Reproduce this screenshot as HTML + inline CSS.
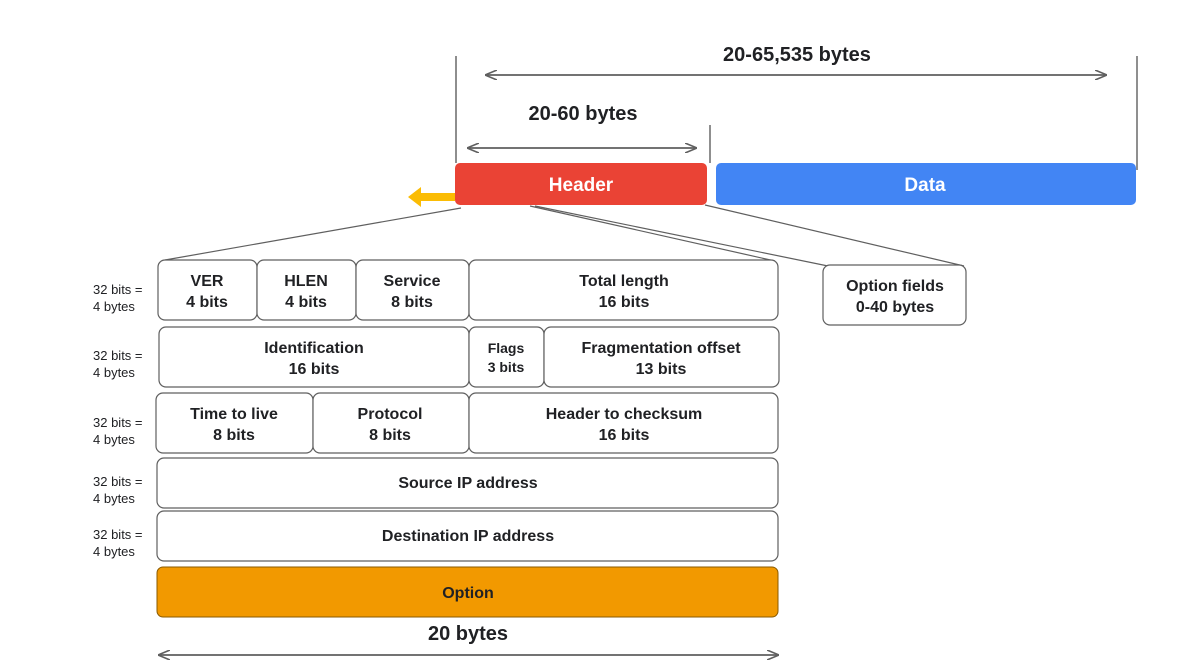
<!DOCTYPE html>
<html><head><style>
body{margin:0;background:#fff;}
svg text{font-family:"Liberation Sans",sans-serif;}
.b{fill:#fff;stroke:#5f5f5f;stroke-width:1.2;}
.t{font-size:16px;font-weight:bold;fill:#202124;text-anchor:middle;}
.s{font-size:13px;fill:#202124;}
</style></head><body>
<svg width="1182" height="666" viewBox="0 0 1182 666" xmlns="http://www.w3.org/2000/svg">
<defs>
<marker id="a" markerWidth="12" markerHeight="10" refX="11" refY="5" orient="auto-start-reverse" markerUnits="userSpaceOnUse">
<path d="M0,0 L12,5 L0,10" fill="none" stroke="#5f5f5f" stroke-width="1.6"/>
</marker>
</defs>
<g stroke="#444" stroke-width="1.2">
<line x1="456" y1="56" x2="456" y2="163"/>
<line x1="710" y1="125" x2="710" y2="163"/>
<line x1="1137" y1="56" x2="1137" y2="170"/>
</g>
<g stroke="#5f5f5f" stroke-width="1.8">
<line x1="486" y1="75" x2="1106" y2="75" marker-start="url(#a)" marker-end="url(#a)"/>
<line x1="468" y1="148" x2="696" y2="148" marker-start="url(#a)" marker-end="url(#a)"/>
<line x1="159" y1="655" x2="778" y2="655" marker-start="url(#a)" marker-end="url(#a)"/>
</g>
<text x="797" y="61" class="t" style="font-size:20px">20-65,535 bytes</text>
<text x="583" y="120" class="t" style="font-size:20px">20-60 bytes</text>
<text x="468" y="640" class="t" style="font-size:20px">20 bytes</text>
<rect x="455" y="163" width="252" height="42" rx="5" fill="#EA4335"/>
<rect x="716" y="163" width="420" height="42" rx="5" fill="#4285F4"/>
<text x="581" y="191" class="t" style="font-size:19px;fill:#fff">Header</text>
<text x="925" y="191" class="t" style="font-size:19px;fill:#fff">Data</text>
<path d="M408,197 L421,187 L421,193 L455,193 L455,201 L421,201 L421,207 Z" fill="#FBBC04"/>
<g stroke="#5f5f5f" stroke-width="1.2">
<line x1="461" y1="208" x2="165" y2="260"/>
<line x1="530" y1="206" x2="775" y2="261"/>
<line x1="535" y1="206" x2="828" y2="266"/>
<line x1="705" y1="205" x2="964" y2="266"/>
</g>
<rect x="158" y="260" width="99" height="60" rx="7" class="b"/>
<rect x="257" y="260" width="99" height="60" rx="7" class="b"/>
<rect x="356" y="260" width="113" height="60" rx="7" class="b"/>
<rect x="469" y="260" width="309" height="60" rx="7" class="b"/>
<rect x="159" y="327" width="310" height="60" rx="7" class="b"/>
<rect x="469" y="327" width="75" height="60" rx="7" class="b"/>
<rect x="544" y="327" width="235" height="60" rx="7" class="b"/>
<rect x="156" y="393" width="157" height="60" rx="7" class="b"/>
<rect x="313" y="393" width="156" height="60" rx="7" class="b"/>
<rect x="469" y="393" width="309" height="60" rx="7" class="b"/>
<rect x="157" y="458" width="621" height="50" rx="7" class="b"/>
<rect x="157" y="511" width="621" height="50" rx="7" class="b"/>
<rect x="157" y="567" width="621" height="50" rx="6" fill="#F29900" stroke="#8a5a00" stroke-width="1"/>
<rect x="823" y="265" width="143" height="60" rx="7" class="b"/>
<g class="t">
<text x="207" y="286">VER</text><text x="207" y="307">4 bits</text>
<text x="306" y="286">HLEN</text><text x="306" y="307">4 bits</text>
<text x="412" y="286">Service</text><text x="412" y="307">8 bits</text>
<text x="624" y="286">Total length</text><text x="624" y="307">16 bits</text>
<text x="314" y="353">Identification</text><text x="314" y="374">16 bits</text>
<text x="506" y="353" style="font-size:14px">Flags</text><text x="506" y="372" style="font-size:14px">3 bits</text>
<text x="661" y="353">Fragmentation offset</text><text x="661" y="374">13 bits</text>
<text x="234" y="419">Time to live</text><text x="234" y="440">8 bits</text>
<text x="390" y="419">Protocol</text><text x="390" y="440">8 bits</text>
<text x="624" y="419">Header to checksum</text><text x="624" y="440">16 bits</text>
<text x="468" y="488">Source IP address</text>
<text x="468" y="541">Destination  IP address</text>
<text x="468" y="598">Option</text>
<text x="895" y="291">Option fields</text><text x="895" y="312">0-40 bytes</text>
</g>
<g class="s">
<text x="93" y="294">32 bits =</text><text x="93" y="311">4 bytes</text>
<text x="93" y="360">32 bits =</text><text x="93" y="377">4 bytes</text>
<text x="93" y="427">32 bits =</text><text x="93" y="444">4 bytes</text>
<text x="93" y="486">32 bits =</text><text x="93" y="503">4 bytes</text>
<text x="93" y="539">32 bits =</text><text x="93" y="556">4 bytes</text>
</g>
</svg>
</body></html>
